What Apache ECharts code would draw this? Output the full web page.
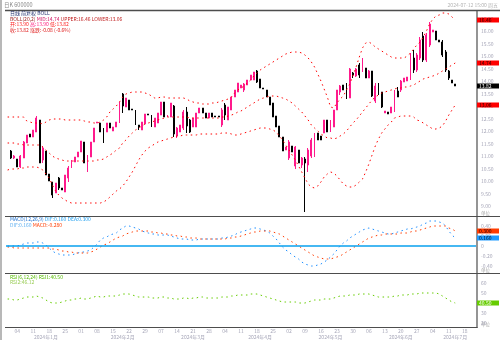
<!DOCTYPE html>
<html>
<head>
<meta charset="utf-8">
<script src="https://cdn.jsdelivr.net/npm/echarts@6/dist/echarts.min.js"></script>
<style>
html,body{margin:0;padding:0;background:#fff;}
#chart{width:500px;height:340px;}
</style>
</head>
<body>
<div id="chart"></div>
<script>
// ---- categories and tick labels ----
const categoryCount = 147;                       // trading days incl. empty space on the right
const categories = Array.from({length: categoryCount}, (_, i) => 'D' + i);
const dayTickStart = 3, dayTickStep = 5;
const dayTickLabels = ['04','11','18','25','01','08','15','22','29','07','14','21','28','04','11',
  '18','25','02','09','16','23','30','06','13','20','27','04','11','18'];
const monthTicks = [12, 36, 58, 79, 101, 123, 140];
const monthLabels = ['2024年1月','2024年2月','2024年3月','2024年4月','2024年5月','2024年6月','2024年7月'];

// ---- daily candles: [open, close, low, high] ----
const candles = ['-',
  [11.22,10.94,10.90,11.26],[10.94,11.02,10.90,11.06],[10.90,10.58,10.58,10.90],[10.58,11.02,10.54,11.06],
  [10.94,11.58,10.94,11.62],[11.54,11.86,11.54,11.86],[11.90,11.78,11.78,11.90],[11.78,12.06,11.78,12.06],
  [11.98,12.54,11.98,12.62],[12.46,10.74,10.74,12.46],[10.86,11.34,10.74,11.42],[11.22,10.26,10.26,11.22],
  [10.30,10.02,10.02,10.30],[9.98,9.46,9.34,9.98],[9.54,9.94,9.54,9.94],[10.14,9.74,9.66,10.18],
  [9.74,9.66,9.66,9.74],[9.58,10.26,9.58,10.26],[10.14,10.54,9.98,10.62],[10.54,10.86,10.54,10.86],
  [10.78,10.98,10.78,10.98],[10.98,11.18,10.98,11.18],[11.18,11.62,11.18,11.62],[11.58,10.74,10.74,11.58],
  [10.54,11.06,10.38,11.06],[10.98,11.58,10.98,11.58],[11.58,12.14,11.58,12.14],[12.34,12.38,12.34,12.38],
  [12.34,11.98,11.98,12.34],[12.06,11.74,11.54,12.14],[11.98,12.34,11.98,12.34],[12.34,12.14,12.14,12.34],
  [12.02,12.18,12.02,12.18],[12.18,12.38,12.18,12.38],[12.34,13.14,12.34,13.18],[13.50,13.02,12.74,13.54],
  [12.98,13.34,12.98,13.34],[13.26,12.86,12.86,13.26],[12.90,12.86,12.86,12.90],[12.86,12.26,12.26,12.86],
  [12.26,12.18,12.06,12.26],[12.06,12.38,12.06,12.38],[12.30,12.70,12.30,12.70],[12.70,12.66,12.66,12.70],
  [12.66,12.18,12.18,12.66],[12.18,12.54,12.18,12.54],[12.34,12.74,12.34,12.74],[12.66,13.18,12.66,13.18],
  [13.18,12.58,12.58,13.18],[12.58,12.66,12.58,12.66],[12.58,13.14,12.58,13.14],[13.02,11.90,11.78,13.06],
  [11.82,12.14,11.74,12.18],[11.98,12.26,11.98,12.26],[12.14,12.78,12.06,12.86],[12.78,12.22,11.94,12.98],
  [12.46,11.98,11.94,12.50],[12.18,12.54,12.18,12.54],[12.18,12.74,12.18,12.74],[12.74,12.94,12.74,12.94],
  [12.94,12.74,12.74,12.94],[12.74,12.54,12.54,12.74],[12.54,12.74,12.54,12.74],[12.74,12.58,12.58,12.74],
  [12.62,12.58,12.58,12.62],[12.62,12.58,12.58,12.62],[12.26,12.86,12.18,12.94],[13.06,12.66,12.46,13.14],
  [12.46,12.98,12.46,12.98],[12.86,13.38,12.86,13.38],[13.38,13.66,13.38,13.66],[13.58,13.94,13.58,13.94],
  [13.74,13.86,13.74,13.86],[13.66,13.90,13.58,13.94],[13.86,14.06,13.86,14.06],[14.06,14.26,14.06,14.26],
  [14.06,14.38,14.06,14.38],[14.42,13.98,13.94,14.46],[14.10,13.74,13.74,14.10],[13.74,13.70,13.70,13.74],
  [13.66,13.38,13.38,13.66],[13.38,13.06,13.06,13.38],[13.14,12.58,12.58,13.14],[12.62,12.18,12.18,12.62],
  [12.22,11.78,11.78,12.22],[11.78,11.22,11.22,11.78],[11.26,11.38,11.26,11.38],[10.94,11.58,10.86,11.66],
  [11.42,11.18,11.18,11.42],[10.62,11.38,10.50,11.42],[11.26,10.74,10.74,11.26],[10.66,10.94,10.54,10.98],
  [10.90,10.74,8.78,10.98],[10.66,11.26,10.38,11.34],[11.02,11.66,10.94,11.74],[11.26,11.86,10.98,11.94],
  [11.94,11.66,11.66,11.94],[11.82,11.66,11.66,11.82],[11.94,12.46,11.94,12.46],[12.46,11.98,11.98,12.46],
  [11.98,12.46,11.98,12.46],[12.18,12.86,12.18,12.86],[12.86,13.66,12.86,13.66],[13.58,13.82,13.46,13.86],
  [13.86,13.66,13.66,13.86],[13.90,13.34,13.30,13.94],[13.34,14.50,13.34,14.54],[14.34,14.26,14.14,14.38],
  [14.22,14.50,14.18,14.54],[14.66,14.26,14.14,14.74],[14.38,14.86,14.38,14.94],[14.54,14.14,14.14,14.54],
  [14.14,14.42,14.14,14.46],[14.42,13.42,13.38,14.42],[13.22,13.82,13.14,13.94],[13.82,13.58,13.46,13.94],
  [13.58,12.98,12.94,13.58],[12.74,12.82,12.74,12.82],[12.78,12.70,12.70,12.78],[12.74,12.98,12.74,12.98],
  [12.86,13.62,12.78,13.66],[13.62,13.38,13.38,13.78],[13.66,14.02,13.58,14.06],[13.98,14.14,13.98,14.14],
  [14.02,14.18,14.02,14.18],[14.14,15.06,14.06,15.14],[14.94,14.46,14.34,15.26],[14.46,15.06,14.38,15.14],
  [14.94,15.66,14.86,15.78],[15.82,14.86,14.78,15.98],[14.86,15.86,14.78,15.94],[15.46,16.30,15.38,16.38],
  [15.98,16.06,15.98,16.06],[16.02,15.66,15.66,16.02],[15.66,15.58,15.58,15.66],[15.58,15.06,14.98,15.66],
  [15.18,14.46,14.38,15.26],[14.42,14.14,14.06,14.46],[14.06,13.94,13.94,14.06],[13.90,13.82,13.82,13.90]
];

// ---- BOLL(20,2) ----
const bollUpper = [
  12.58,12.58,12.58,12.58,12.58,12.58,12.42,12.38,12.34,12.34,12.34,
  12.30,12.38,12.46,12.50,12.50,12.50,12.50,12.46,12.46,12.46,
  12.46,12.46,12.46,12.42,12.38,12.38,12.34,12.34,12.38,12.46,
  12.58,12.78,12.90,13.02,13.18,13.38,13.50,13.54,13.58,13.58,
  13.58,13.58,13.54,13.50,13.42,13.34,13.34,13.38,13.38,13.34,
  13.34,13.34,13.34,13.34,13.34,13.30,13.22,13.18,13.14,13.14,
  13.10,13.10,13.10,13.14,13.14,13.18,13.22,13.26,13.30,13.38,
  13.54,13.66,13.74,13.82,13.94,14.06,14.22,14.34,14.46,14.54,
  14.62,14.70,14.78,14.86,14.94,15.02,15.10,15.14,15.18,15.18,
  15.18,15.14,15.06,14.94,14.78,14.58,14.30,14.02,13.70,13.38,
  12.98,12.94,13.14,13.30,13.42,13.66,13.90,14.22,14.58,14.98,
  15.34,15.54,15.58,15.50,15.38,15.30,15.22,15.14,15.06,14.98,
  14.94,14.94,14.94,14.94,15.02,15.14,15.30,15.46,15.58,15.78,
  16.02,16.30,16.50,16.62,16.66,16.74,16.74,16.70,16.58,16.46
];
const bollMid = [
  11.54,11.54,11.54,11.50,11.50,11.46,11.46,11.46,11.46,11.46,11.46,
  11.38,11.26,11.14,11.02,10.94,10.90,10.86,10.82,10.82,10.82,
  10.82,10.82,10.82,10.82,10.82,10.82,10.82,10.86,10.86,10.90,
  10.98,11.06,11.14,11.26,11.34,11.54,11.66,11.82,11.94,12.06,
  12.14,12.22,12.30,12.34,12.38,12.42,12.46,12.50,12.54,12.58,
  12.58,12.58,12.58,12.58,12.58,12.58,12.54,12.54,12.54,12.54,
  12.54,12.54,12.54,12.54,12.54,12.54,12.58,12.58,12.62,12.66,
  12.70,12.78,12.82,12.90,12.98,13.06,13.14,13.22,13.30,13.34,
  13.38,13.42,13.42,13.42,13.38,13.34,13.30,13.22,13.14,13.02,
  12.90,12.78,12.62,12.46,12.26,12.14,12.02,11.90,11.82,11.74,
  11.74,11.70,11.74,11.82,11.90,12.02,12.18,12.34,12.46,12.62,
  12.78,12.94,13.10,13.26,13.38,13.46,13.54,13.58,13.62,13.66,
  13.70,13.74,13.74,13.78,13.78,13.82,13.86,13.94,14.02,14.10,
  14.14,14.18,14.22,14.26,14.34,14.42,14.50,14.58,14.66,14.74
];
const bollLower = [
  10.46,10.50,10.50,10.50,10.54,10.54,10.58,10.58,10.58,10.58,10.54,
  10.46,10.30,10.14,9.86,9.62,9.46,9.34,9.26,9.18,9.14,
  9.14,9.14,9.14,9.14,9.14,9.14,9.14,9.14,9.14,9.18,
  9.26,9.38,9.50,9.62,9.70,9.82,9.98,10.18,10.38,10.62,
  10.86,11.06,11.22,11.34,11.42,11.50,11.58,11.62,11.66,11.70,
  11.74,11.78,11.82,11.82,11.86,11.86,11.86,11.86,11.86,11.90,
  11.90,11.90,11.90,11.90,11.90,11.90,11.94,11.94,11.94,11.90,
  11.86,11.86,11.90,11.94,11.98,12.02,12.06,12.10,12.14,12.14,
  12.14,12.10,12.06,11.98,11.82,11.66,11.46,11.26,11.06,10.86,
  10.62,10.38,10.14,9.90,9.78,9.74,9.82,9.98,10.18,10.30,
  10.38,10.34,10.22,10.06,9.90,9.82,9.78,9.78,9.86,9.98,
  10.10,10.38,10.70,11.06,11.42,11.70,11.94,12.10,12.26,12.38,
  12.54,12.58,12.62,12.62,12.62,12.62,12.58,12.46,12.42,12.34,
  12.26,12.18,12.10,12.10,12.14,12.22,12.42,12.66,12.86,13.06
];

// ---- MACD(12,26,9) ----
const macdDif = [
  0,0,0,0,0.02,0.04,0.06,0.06,0.06,0.08,0.08,
  0.06,0.02,-0.04,-0.10,-0.14,-0.16,-0.18,-0.18,-0.18,-0.18,
  -0.16,-0.14,-0.12,-0.12,-0.10,-0.08,-0.02,0.04,0.12,0.16,
  0.18,0.22,0.24,0.26,0.32,0.36,0.40,0.40,0.38,0.36,
  0.34,0.30,0.28,0.26,0.24,0.24,0.22,0.22,0.22,0.22,
  0.20,0.18,0.16,0.14,0.14,0.14,0.12,0.12,0.12,0.14,
  0.14,0.14,0.14,0.14,0.14,0.14,0.16,0.16,0.18,0.20,
  0.22,0.26,0.28,0.30,0.32,0.34,0.36,0.36,0.34,0.32,
  0.30,0.26,0.20,0.14,0.06,-0.02,-0.08,-0.12,-0.18,-0.22,
  -0.26,-0.32,-0.36,-0.38,-0.40,-0.40,-0.38,-0.36,-0.32,-0.28,
  -0.22,-0.16,-0.08,0.00,0.06,0.10,0.16,0.20,0.24,0.28,
  0.32,0.34,0.36,0.34,0.32,0.30,0.28,0.26,0.24,0.24,
  0.26,0.28,0.30,0.32,0.34,0.34,0.36,0.38,0.40,0.44,
  0.46,0.50,0.50,0.50,0.48,0.46,0.40,0.30,0.22,0.16
];
const macdDea = [
  -0.02,-0.02,-0.04,-0.04,-0.04,-0.04,-0.04,-0.04,-0.04,-0.04,-0.04,
  -0.04,-0.04,-0.04,-0.06,-0.06,-0.08,-0.10,-0.10,-0.12,-0.12,
  -0.14,-0.14,-0.14,-0.14,-0.14,-0.12,-0.10,-0.06,-0.02,0.02,
  0.04,0.08,0.12,0.16,0.18,0.20,0.24,0.26,0.28,0.30,
  0.30,0.30,0.30,0.30,0.28,0.28,0.26,0.26,0.24,0.24,
  0.22,0.22,0.20,0.20,0.18,0.18,0.16,0.16,0.16,0.14,
  0.14,0.14,0.14,0.14,0.14,0.14,0.14,0.14,0.16,0.16,
  0.18,0.18,0.20,0.22,0.24,0.26,0.28,0.28,0.30,0.30,
  0.30,0.30,0.28,0.26,0.24,0.20,0.16,0.12,0.08,0.04,
  0.00,-0.04,-0.08,-0.12,-0.16,-0.20,-0.22,-0.24,-0.26,-0.26,
  -0.26,-0.24,-0.22,-0.20,-0.16,-0.12,-0.08,-0.04,0.00,0.04,
  0.08,0.12,0.16,0.18,0.20,0.22,0.22,0.24,0.24,0.24,
  0.24,0.24,0.26,0.26,0.26,0.28,0.30,0.30,0.32,0.34,
  0.36,0.38,0.40,0.40,0.40,0.40,0.40,0.36,0.34,0.30
];

// ---- RSI ----
const rsiLine = [
  44.5,44.5,43.5,43.5,44.5,45.5,46.5,46.5,46.5,47.5,46.5,
  45.5,43.5,41.5,40.5,40.5,40.5,41.5,42.5,43.5,43.5,
  44.5,44.5,45.5,44.5,44.5,45.5,46.5,47.5,46.5,46.5,
  47.5,47.5,47.5,47.5,48.5,49.5,49.5,49.5,48.5,47.5,
  46.5,46.5,46.5,46.5,45.5,45.5,45.5,46.5,46.5,45.5,
  45.5,44.5,44.5,44.5,45.5,45.5,44.5,45.5,45.5,46.5,
  46.5,45.5,45.5,45.5,45.5,45.5,46.5,46.5,46.5,47.5,
  47.5,48.5,48.5,48.5,48.5,49.5,49.5,49.5,48.5,47.5,
  46.5,45.5,44.5,43.5,42.5,41.5,41.5,41.5,41.5,41.5,
  40.5,40.5,40.5,41.5,42.5,43.5,43.5,43.5,44.5,44.5,
  44.5,45.5,46.5,47.5,47.5,47.5,48.5,48.5,48.5,49.5,
  49.5,49.5,49.5,48.5,47.5,46.5,46.5,46.5,46.5,46.5,
  47.5,47.5,48.5,48.5,48.5,49.5,49.5,49.5,50.5,50.5,
  50.5,50.5,50.5,50.5,49.5,47.5,45.5,43.5,41.5,40.5
];

// ---- styling ----
const FONT = '"Noto Sans CJK SC", "DejaVu Sans", sans-serif';
const UP = '#ff1a8c', DOWN = '#000000';
const BAND = '#ff0000', DIF_C = '#1e8fff', DEA_C = '#ff3c00', RSI_C = '#66cc00';
const AXIS_TXT = '#a6a6b8';
const FRAME = '#4d4d4d';
const DOTS = [1.5, 3.5];
const last = arr => arr[arr.length - 1];

// value tag drawn at the right edge of a panel
function valueTag(value, bg, fg, digits) {
  return {
    yAxis: value,
    lineStyle: { color: 'rgba(0,0,0,0)', width: 1, type: 'solid' },
    label: {
      show: true, position: 'end', distance: 1,
      formatter: value.toFixed(digits),
      backgroundColor: bg, color: fg,
      fontSize: 5, lineHeight: 5, fontFamily: FONT,
      padding: [0, 1, 0, 2], width: 19, align: 'left'
    }
  };
}
const markBase = { symbol: ['none', 'none'], silent: true, animation: false };

function catAxis(gridIndex, extra) {
  return Object.assign({
    type: 'category', gridIndex, data: categories, boundaryGap: true, position: 'bottom',
    axisLine: { show: false }, axisTick: { show: false },
    axisLabel: { show: false }, splitLine: { show: false }
  }, extra || {});
}
function valAxis(gridIndex, min, max, interval, fmt, show) {
  return {
    type: 'value', gridIndex, position: 'right', min, max, interval, show: show !== false,
    axisLine: { show: false }, axisTick: { show: false }, splitLine: { show: false },
    axisLabel: {
      fontSize: 5, color: AXIS_TXT, margin: 5, fontFamily: FONT,
      showMinLabel: false, showMaxLabel: false, formatter: fmt
    }
  };
}

function textEl(x, y, text, fill, size, align) {
  return { type: 'text', silent: true, style: {
    x, y, text, fill, fontSize: size || 5, fontFamily: FONT,
    align: align || 'left', verticalAlign: 'middle' } };
}
function richEl(x, y, text, rich) {
  const r = {};
  Object.keys(rich).forEach(k => { r[k] = { fill: rich[k], fontSize: 5, fontFamily: FONT }; });
  return { type: 'text', silent: true, style: {
    x, y, text, rich: r, fontSize: 5, fontFamily: FONT, verticalAlign: 'middle' } };
}

const lastClose = last(candles)[1];

const option = {
  animation: false,
  backgroundColor: '#ffffff',
  textStyle: { fontFamily: FONT },
  grid: [
    { left: 6, right: 24, top: 6.5, height: 212.5, outerBoundsMode: 'none', containLabel: false },
    { left: 6, right: 24, top: 216, height: 60, outerBoundsMode: 'none', containLabel: false },
    { left: 6, right: 24, top: 273.5, height: 60, outerBoundsMode: 'none', containLabel: false },
    { left: 6, right: 24, top: 273, height: 54, outerBoundsMode: 'none', containLabel: false }
  ],
  xAxis: [
    catAxis(0), catAxis(1), catAxis(2),
    catAxis(3, { axisLabel: {
      show: true, fontSize: 5, color: AXIS_TXT, margin: 2, fontFamily: FONT,
      interval: i => i >= dayTickStart && (i - dayTickStart) % dayTickStep === 0,
      formatter: (v, i) => dayTickLabels[(i - dayTickStart) / dayTickStep] || ''
    } }),
    catAxis(3, { offset: 6, axisLabel: {
      show: true, fontSize: 5, color: AXIS_TXT, margin: 2, fontFamily: FONT,
      interval: i => monthTicks.indexOf(i) >= 0,
      formatter: (v, i) => monthLabels[monthTicks.indexOf(i)] || ''
    } })
  ],
  yAxis: [
    valAxis(0, 8.5, 17, 0.5, v => v.toFixed(2)),
    valAxis(1, -0.6, 0.6, 0.2, v => (Math.abs(v) < 1e-9 ? '0' : v.toFixed(2))),
    valAxis(2, 10, 70, 10, v => String(v)),
    valAxis(3, 0, 1, 1, v => '', false)
  ],
  series: [
    {
      name: 'K', type: 'candlestick', xAxisIndex: 0, yAxisIndex: 0, silent: true,
      data: candles, barWidth: 1.4,
      itemStyle: { color: UP, color0: DOWN, borderColor: UP, borderColor0: DOWN, borderWidth: 1 },
      markLine: Object.assign({ data: [valueTag(lastClose, '#000000', '#ffffff', 2)] }, markBase)
    },
    {
      name: 'UPPER', type: 'line', xAxisIndex: 0, yAxisIndex: 0, data: bollUpper,
      showSymbol: false, silent: true, lineStyle: { color: BAND, width: 1, type: DOTS },
      markLine: Object.assign({ data: [valueTag(last(bollUpper), '#ff0000', '#300000', 2)] }, markBase)
    },
    {
      name: 'MID', type: 'line', xAxisIndex: 0, yAxisIndex: 0, data: bollMid,
      showSymbol: false, silent: true, lineStyle: { color: BAND, width: 1, type: DOTS },
      markLine: Object.assign({ data: [valueTag(last(bollMid), '#ff0000', '#300000', 2)] }, markBase)
    },
    {
      name: 'LOWER', type: 'line', xAxisIndex: 0, yAxisIndex: 0, data: bollLower,
      showSymbol: false, silent: true, lineStyle: { color: BAND, width: 1, type: DOTS },
      markLine: Object.assign({ data: [valueTag(last(bollLower), '#ff0000', '#300000', 2)] }, markBase)
    },
    {
      name: 'DIF', type: 'line', xAxisIndex: 1, yAxisIndex: 1, data: macdDif,
      showSymbol: false, silent: true, lineStyle: { color: DIF_C, width: 1, type: DOTS },
      markLine: Object.assign({ data: [
        { yAxis: 0, lineStyle: { color: '#08a0ee', width: 1.6, type: 'solid' }, label: { show: false } },
        valueTag(last(macdDif), '#1e9bff', '#001830', 3)
      ] }, markBase)
    },
    {
      name: 'DEA', type: 'line', xAxisIndex: 1, yAxisIndex: 1, data: macdDea,
      showSymbol: false, silent: true, lineStyle: { color: DEA_C, width: 1, type: DOTS },
      markLine: Object.assign({ data: [valueTag(last(macdDea), '#ff3c00', '#300000', 3)] }, markBase)
    },
    {
      name: 'RSI', type: 'line', xAxisIndex: 2, yAxisIndex: 2, data: rsiLine,
      showSymbol: false, silent: true, lineStyle: { color: RSI_C, width: 1, type: DOTS },
      markLine: Object.assign({ data: [valueTag(last(rsiLine), '#66cc00', '#ffffff', 2)] }, markBase)
    }
  ],
  graphic: [
    { type: 'rect', silent: true, shape: { x: 0, y: 0, width: 2, height: 340 }, style: { fill: '#b8b8b8' } },
    { type: 'line', silent: true, shape: { x1: 5, y1: 10.5, x2: 500, y2: 10.5 }, style: { stroke: FRAME, lineWidth: 1.4 } },
    { type: 'line', silent: true, shape: { x1: 5, y1: 216.5, x2: 500, y2: 216.5 }, style: { stroke: FRAME, lineWidth: 1.2 } },
    { type: 'line', silent: true, shape: { x1: 5, y1: 273.5, x2: 500, y2: 273.5 }, style: { stroke: FRAME, lineWidth: 1.2 } },
    { type: 'line', silent: true, shape: { x1: 5, y1: 327.5, x2: 477.5, y2: 327.5 }, style: { stroke: FRAME, lineWidth: 1.2 } },
    { type: 'line', silent: true, shape: { x1: 477, y1: 10, x2: 477, y2: 328 }, style: { stroke: FRAME, lineWidth: 1.2 } },

    textEl(4, 4.5, '日K 600000', '#8c8c8c', 5.5),
    textEl(498, 5, '2024-07-12 15:00 周五', '#b4b4b4', 5, 'right'),

    textEl(10, 13, '日线 前复权 BOLL', '#1c2c6c'),
    richEl(10, 19, '{a|BOLL(20,2)} {b|MID:14.74} {c|UPPER:16.46} {c|LOWER:13.06}',
      { a: '#a02828', b: '#d01060', c: '#c02020' }),
    richEl(10, 24.5, '{a|开:13.90} {b|高:13.90} {a|低:13.82}', { a: '#ff2020', b: '#ff2080' }),
    textEl(10, 30.5, '收:13.82 涨跌:-0.08 (-0.6%)', '#e02020'),

    richEl(10, 219.5, '{a|MACD(12,26,9)} {b|DIF:0.160} {b|DEA:0.300}', { a: '#1a70d0', b: '#20a0f0' }),
    richEl(10, 225, '{b|DIF:0.160} {c|MACD:-0.280}', { b: '#60b0f0', c: '#ff3c00' }),

    textEl(10, 277, 'RSI(6,12,24) RSI1:40.50', '#55bb00'),
    textEl(10, 282.5, 'RSI2:46.12', '#99cc55'),

    textEl(481, 213.5, '单位', '#a8a8a8', 4.5),
    textEl(481, 270.5, '单位', '#a8a8a8', 4.5),
    textEl(481, 324.5, '单位', '#a8a8a8', 4.5)
  ]
};

const chart = echarts.init(document.getElementById('chart'), null, { renderer: 'canvas' });
chart.setOption(option);
</script>
</body>
</html>
